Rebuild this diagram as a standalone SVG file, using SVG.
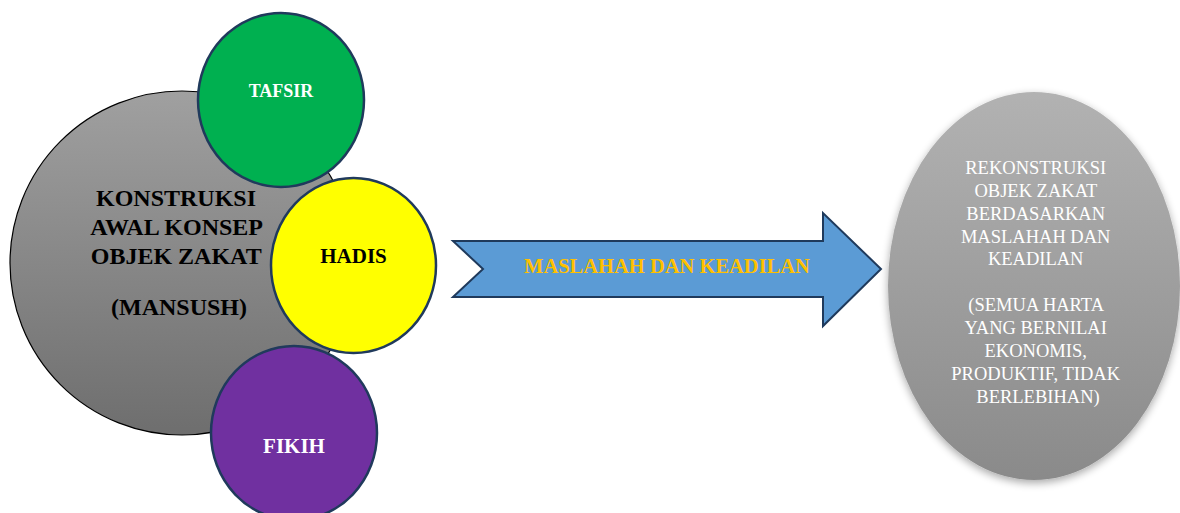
<svg xmlns="http://www.w3.org/2000/svg" width="1180" height="513" viewBox="0 0 1180 513">
<defs>
<linearGradient id="gBig" x1="0" y1="0" x2="0" y2="1">
<stop offset="0" stop-color="#a0a0a0"/>
<stop offset="1" stop-color="#6e6e6e"/>
</linearGradient>
<linearGradient id="gRight" x1="0" y1="0" x2="0" y2="1">
<stop offset="0" stop-color="#b2b2b2"/>
<stop offset="1" stop-color="#8a8a8a"/>
</linearGradient>
<filter id="shadow" x="-20%" y="-20%" width="140%" height="140%">
<feGaussianBlur in="SourceAlpha" stdDeviation="4"/>
<feOffset dx="0" dy="3" result="b"/>
<feComponentTransfer><feFuncA type="linear" slope="0.35"/></feComponentTransfer>
<feMerge><feMergeNode/><feMergeNode in="SourceGraphic"/></feMerge>
</filter>
</defs>
<style>
.t{font-family:"Liberation Serif","Times New Roman",serif;text-anchor:middle}
.b{font-weight:bold}
.small{stroke:#203a5c;stroke-width:2.5}
</style>
<rect width="1180" height="513" fill="#ffffff"/>
<g id="konstruksi">
<circle cx="182" cy="263" r="172" fill="url(#gBig)" stroke="#000" stroke-width="1.2"/>
<text class="t b" font-size="24" fill="#000">
<tspan x="179" y="206">KONSTRUKSI</tspan>
<tspan x="179" y="235">AWAL KONSEP</tspan>
<tspan x="179" y="264">OBJEK ZAKAT</tspan>
<tspan x="179" y="315">(MANSUSH)</tspan>
</text>
</g>
<g id="tafsir">
<ellipse class="small" cx="281" cy="100" rx="83" ry="87" fill="#00b050"/>
<text class="t b" x="281" y="97" font-size="18" fill="#ffffff">TAFSIR</text>
</g>
<g id="hadis">
<ellipse class="small" cx="353.5" cy="265.5" rx="82.5" ry="87.5" fill="#ffff00"/>
<text class="t b" x="353.5" y="263" font-size="21" fill="#000">HADIS</text>
</g>
<g id="fikih">
<ellipse class="small" cx="294" cy="433" rx="83" ry="87" fill="#7030a0"/>
<text class="t b" x="294" y="453" font-size="21" fill="#ffffff">FIKIH</text>
</g>
<g id="connectors">
<path d="M453,241 L823,241 L823,213 L881,269 L823,326 L823,297 L453,297 L483,269 Z" fill="#5b9bd5" stroke="#1f3a5c" stroke-width="2" stroke-linejoin="miter"/>
<text class="t b" x="667" y="273" font-size="20.5" fill="#ffc000">MASLAHAH DAN KEADILAN</text>
</g>
<g id="rekonstruksi">
<ellipse cx="1034" cy="286" rx="146" ry="194" fill="url(#gRight)" filter="url(#shadow)"/>
<text class="t" font-size="18.5" fill="#ffffff">
<tspan x="1038" y="174">REKONSTRUKSI</tspan>
<tspan x="1038" y="197">OBJEK ZAKAT</tspan>
<tspan x="1038" y="220">BERDASARKAN</tspan>
<tspan x="1038" y="243">MASLAHAH DAN</tspan>
<tspan x="1038" y="265">KEADILAN</tspan>
<tspan x="1038" y="311">(SEMUA HARTA</tspan>
<tspan x="1038" y="334">YANG BERNILAI</tspan>
<tspan x="1038" y="357">EKONOMIS,</tspan>
<tspan x="1038" y="380">PRODUKTIF, TIDAK</tspan>
<tspan x="1038" y="403">BERLEBIHAN)</tspan>
</text>
</g>
</svg>
